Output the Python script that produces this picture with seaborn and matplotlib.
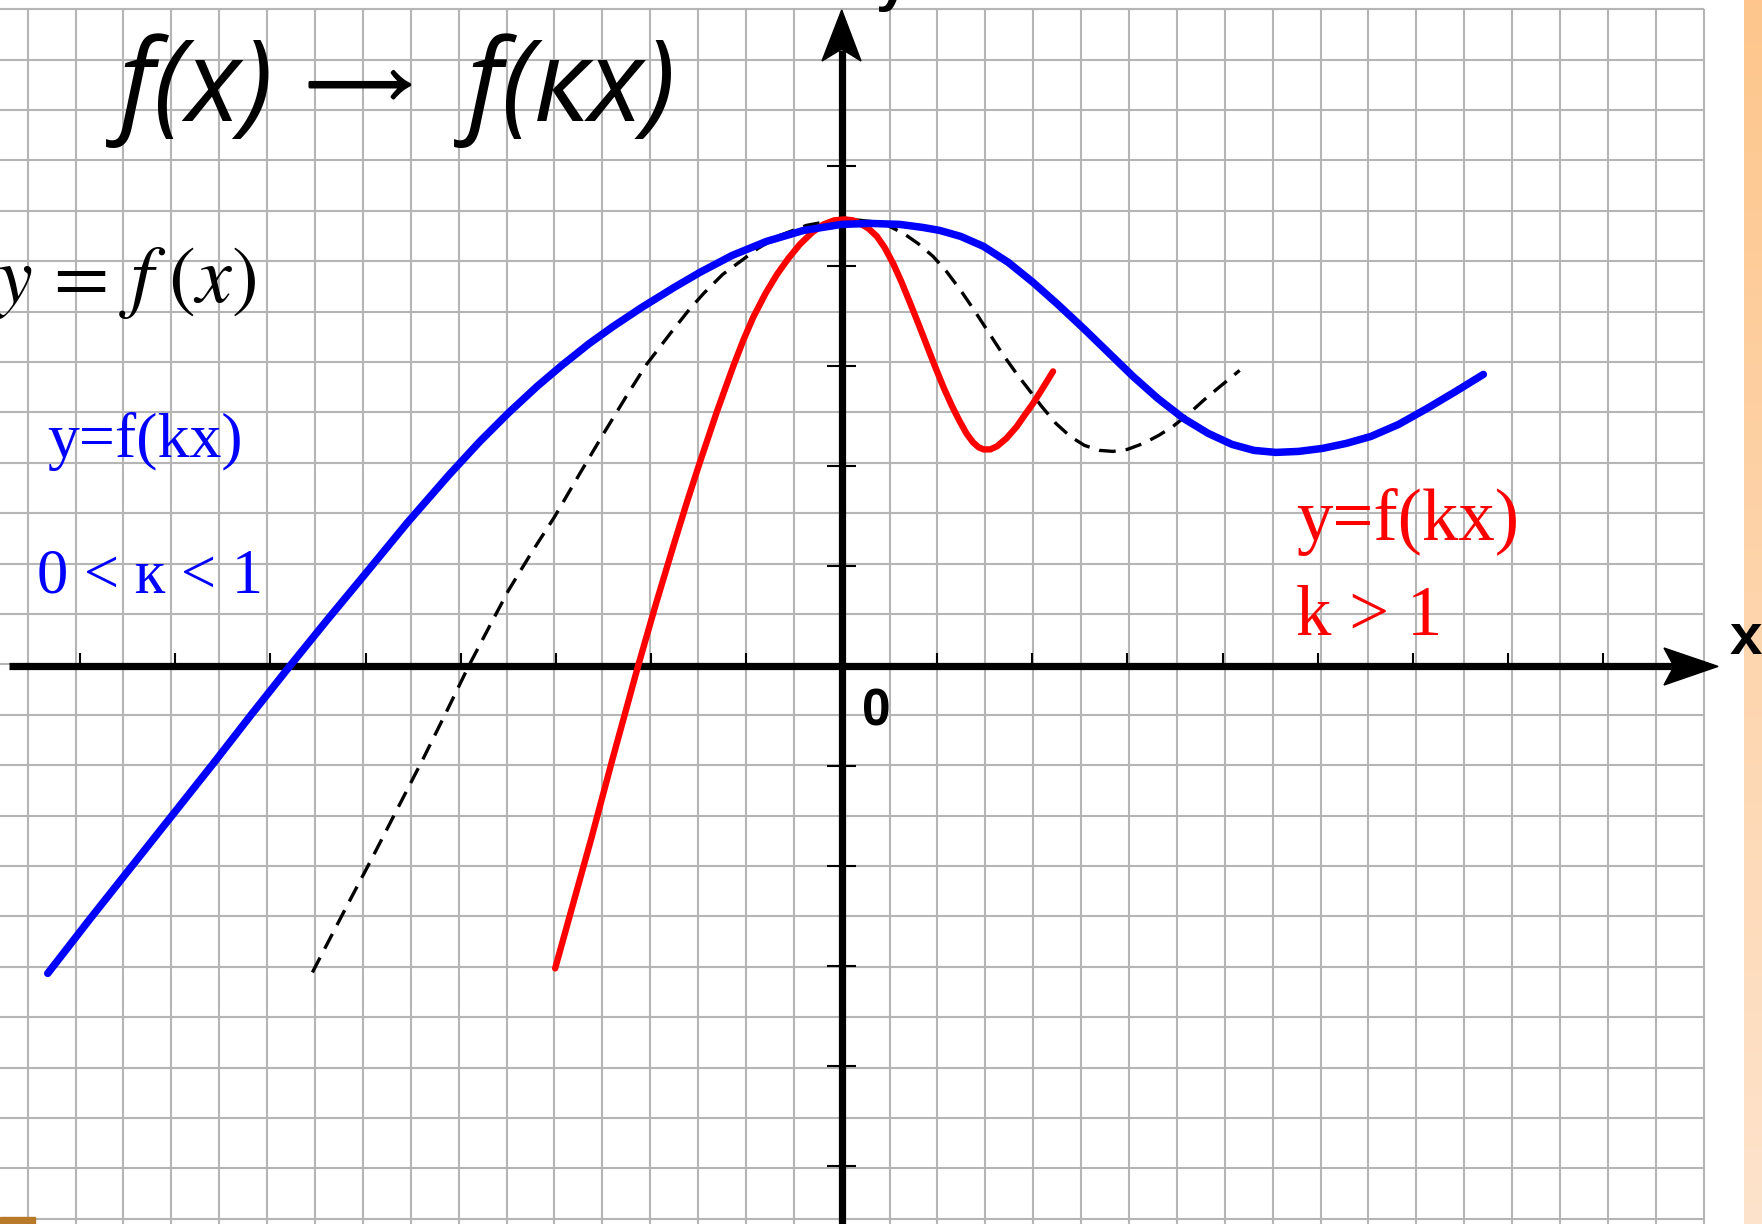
import numpy as np
import matplotlib
matplotlib.use('Agg')
import matplotlib.pyplot as plt
import matplotlib.patheffects as pe
import seaborn as sns
from matplotlib.patches import Polygon, Rectangle
from matplotlib.colors import LinearSegmentedColormap

# y = f(x), dashed black
fx_x = [-5.56, -5.20, -4.94, -4.60, -4.40, -4.15, -3.92, -3.70, -3.50, -3.25, -3.02,
        -2.75, -2.50, -2.25, -2.05, -1.80, -1.60, -1.45, -1.25, -1.05, -0.88, -0.65,
        -0.37, -0.15, 0.10, 0.30, 0.48, 0.65, 0.80, 0.96, 1.10, 1.25, 1.40, 1.55,
        1.70, 1.85, 1.94, 2.10, 2.25, 2.40, 2.55, 2.71, 2.85, 3.00, 3.17, 3.33,
        3.48, 3.65, 3.80, 3.95, 4.18]
fx_y = [-3.06, -2.40, -1.93, -1.30, -0.93, -0.45, 0.00, 0.40, 0.76, 1.15, 1.49,
        1.93, 2.33, 2.72, 3.02, 3.33, 3.57, 3.73, 3.92, 4.06, 4.18, 4.31,
        4.41, 4.45, 4.47, 4.45, 4.41, 4.33, 4.23, 4.10, 3.95, 3.76, 3.55, 3.33,
        3.11, 2.91, 2.80, 2.60, 2.43, 2.30, 2.21, 2.16, 2.15, 2.17, 2.23, 2.31,
        2.40, 2.53, 2.66, 2.78, 2.96]

# y = f(kx), 0 < k < 1, blue
blue_x = [-8.34, -7.90, -7.50, -7.00, -6.60, -6.20, -5.80, -5.40, -5.00, -4.56, -4.12,
          -3.80, -3.50, -3.20, -2.94, -2.65, -2.40, -2.10, -1.76, -1.49, -1.15, -0.79,
          -0.40, 0.00, 0.30, 0.61, 0.85, 1.03, 1.25, 1.49, 1.75, 2.01, 2.27, 2.54,
          2.80, 3.06, 3.32, 3.59, 3.85, 4.10, 4.33, 4.56, 4.80, 5.05, 5.30, 5.56,
          5.85, 6.15, 6.45, 6.74]
blue_y = [-3.07, -2.53, -2.05, -1.45, -0.97, -0.48, 0.00, 0.47, 0.93, 1.44, 1.92,
          2.25, 2.535, 2.80, 3.01, 3.23, 3.40, 3.59, 3.79, 3.94, 4.11, 4.25,
          4.36, 4.42, 4.43, 4.42, 4.39, 4.36, 4.30, 4.20, 4.04, 3.84, 3.62, 3.38,
          3.14, 2.90, 2.68, 2.48, 2.33, 2.22, 2.16, 2.14, 2.15, 2.18, 2.23, 2.30,
          2.42, 2.58, 2.75, 2.92]

# y = f(kx), k > 1, red
red_x = [-3.01, -2.80, -2.63, -2.40, -2.14, -1.95, -1.76, -1.62, -1.49, -1.31, -1.14,
         -1.03, -0.93, -0.80, -0.68, -0.56, -0.44, -0.31, -0.19, -0.08, 0.03, 0.12,
         0.19, 0.28, 0.37, 0.45, 0.54, 0.63, 0.72, 0.80, 0.89, 0.98, 1.07, 1.16,
         1.24, 1.31, 1.38, 1.44, 1.49, 1.56, 1.63, 1.73, 1.84, 1.92, 2.01, 2.11, 2.22]
red_y = [-3.02, -2.30, -1.72, -0.90, 0.00, 0.63, 1.23, 1.66, 2.04, 2.55, 3.00,
         3.27, 3.49, 3.73, 3.92, 4.08, 4.22, 4.34, 4.42, 4.46, 4.47, 4.46,
         4.43, 4.38, 4.30, 4.19, 4.03, 3.84, 3.63, 3.44, 3.22, 3.00, 2.79, 2.60,
         2.45, 2.33, 2.24, 2.19, 2.17, 2.17, 2.20, 2.28, 2.40, 2.51, 2.63, 2.78, 2.95]

x_ticks = [-8, -7, -6, -5, -4, -3, -2, -1, 1, 2, 3, 4, 5, 6, 7, 8]
y_ticks = [-5, -4, -3, -2, -1, 1, 2, 3, 4, 5]

W, H = 1762, 1224
X0, Y0 = 841.7, 666.4   # origin in pixels
UX, UY = 95.2, 100.0    # pixels per unit


def P(px, py):
    return ((px - X0) / UX, (Y0 - py) / UY)


def T(px, py):
    return px / W, 1 - py / H


sns.set_theme(style='white')
plt.rcParams['mathtext.fontset'] = 'stix'

fig = plt.figure(figsize=(W / 100, H / 100), dpi=100)
fig.patch.set_facecolor('white')
ax = fig.add_axes([0, 0, 1, 1])
xmin, xmax = -X0 / UX, (W - X0) / UX
ymin, ymax = (Y0 - H) / UY, Y0 / UY
ax.set_xlim(xmin, xmax)
ax.set_ylim(ymin, ymax)
ax.axis('off')

# squared paper
gx = 0.503 * np.arange(-17, 19)
gy = 0.02 + 0.504 * np.arange(-11, 14)
ax.vlines(gx, ymin, gy.max(), colors='#b5b5b5', lw=1.5, zorder=1)
ax.hlines(gy, xmin, gx.max(), colors='#b5b5b5', lw=1.5, zorder=1)

# axes with arrows
ax.plot([P(9, 0)[0], P(1680, 0)[0]], [0, 0], color='black', lw=5.2, solid_capstyle='butt', zorder=4)
ax.plot([0, 0], [ymin, P(0, 50)[1]], color='black', lw=5.2, solid_capstyle='butt', zorder=4)
ax.add_patch(Polygon([P(1718, Y0), P(1664, 648), P(1674, Y0), P(1664, 685)],
                     closed=True, color='black', zorder=4))
ax.add_patch(Polygon([P(X0, 10), P(822, 61), P(X0, 49), P(861, 61)],
                     closed=True, color='black', zorder=4))
ax.vlines(x_ticks, 0, 0.135, colors='black', lw=1.5, zorder=4)
ax.hlines(y_ticks, -0.155, 0.155, colors='black', lw=1.5, zorder=4)

# curves
sns.lineplot(x=fx_x, y=fx_y, ax=ax, color='black', lw=2.4, linestyle=(0, (5, 3)), zorder=5)
sns.lineplot(x=red_x, y=red_y, ax=ax, color='#ff0000', lw=4.6, zorder=6,
             solid_joinstyle='round')
sns.lineplot(x=blue_x, y=blue_y, ax=ax, color='#0000ff', lw=5.4, zorder=7,
             solid_joinstyle='round')

# decorations of the slide
band = fig.add_axes([1744 / W, 0, (W - 1744) / W, 1])
band.imshow(np.linspace(0, 1, 256)[:, None], aspect='auto',
            cmap=LinearSegmentedColormap.from_list('b', ['#fec68c', '#fde3cc']))
band.axis('off')
fig.patches.append(Rectangle((0, 0), 35 / W, 7 / H, transform=fig.transFigure,
                             color='#b87a28', zorder=10))

# texts
tfont = dict(family=['Open Sans', 'DejaVu Sans'], style='italic', fontsize=82,
             color='black', va='baseline', ha='left')
fig.text(*T(119, 121), 'f(x)', **tfont)
fig.text(*T(354, 102), r'$\longrightarrow$', fontsize=49, color='black', ha='center',
         va='baseline', path_effects=[pe.withStroke(linewidth=2.2, foreground='black')])
fig.text(*T(467, 121), 'f(кx)', **tfont)

fig.text(*T(-5, 302), r'$y\,=\,f\;(x)$', fontsize=58, color='black', va='baseline', ha='left')

serif = dict(family=['Liberation Serif', 'DejaVu Serif'], va='baseline', ha='left')
fig.text(*T(47, 457), 'y=f(kx)', fontsize=46, color='#0000ff', **serif)
fig.text(*T(37, 592), '0 < к < 1', fontsize=45, color='#0000ff', **serif)
fig.text(*T(1296, 540), 'y=f(kx)', fontsize=52.5, color='#ff0000', **serif)
fig.text(*T(1296, 635), 'k > 1', fontsize=51, color='#ff0000', **serif)

bold = dict(family=['Liberation Sans', 'DejaVu Sans'], weight='bold', color='black',
            va='baseline', ha='left')
fig.text(*T(862, 725), '0', fontsize=37, **bold)
fig.text(*T(1730, 654), 'x', fontsize=42, **bold)
fig.text(*T(876, 0), 'y', fontsize=42, **bold)

fig.savefig('out.png', dpi=100)
